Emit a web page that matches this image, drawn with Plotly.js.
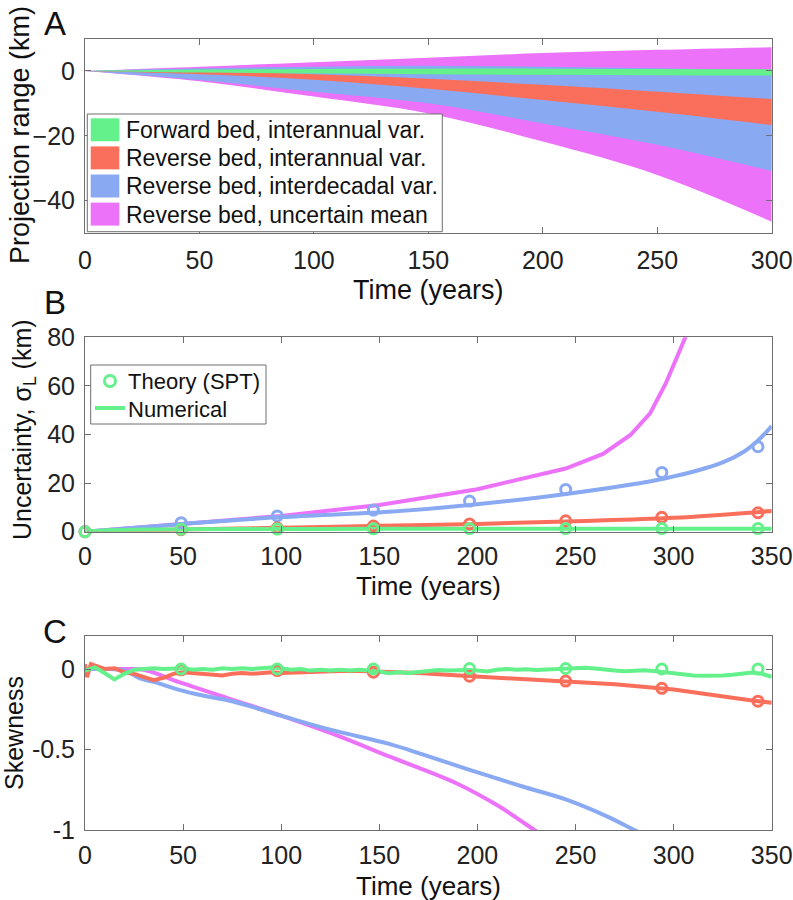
<!DOCTYPE html>
<html>
<head>
<meta charset="utf-8">
<script src="https://cdn.plot.ly/plotly-3.0.1.min.js"></script>
<style>
  body { margin: 0; background: #fff; }
  #chart { width: 793px; height: 900px; }
</style>
</head>
<body>
<div id="chart"></div>
<script>
// ---- Panel A: projection range bands (km) ----
const yearsA = [0, 50, 100, 150, 200, 250, 300];
const meanUpper = [0, 1.3, 2.7, 4.1, 5.5, 6.5, 7.3];
const meanLower = [0, -3.2, -7.9, -13.1, -21.8, -32.1, -46.5];
const decadalUpper = [0, 0.8, 1.3, 1.6, 1.3, 0.8, 0.3];
const decadalLower = [0, -2.8, -6.4, -10.0, -16.2, -22.8, -30.9];
const reverseUpper = [0, -0.2, -1.0, -2.4, -4.3, -6.4, -8.7];
const reverseLower = [0, -1.0, -2.7, -5.5, -9.0, -12.6, -16.7];
const forwardUpper = [0, 0.4, 0.6, 0.7, 0.7, 0.6, 0.5];
const forwardLower = [0, -0.5, -0.8, -1.0, -1.2, -1.3, -1.4];
const bandNames = ['Forward bed, interannual var.', 'Reverse bed, interannual var.',
                   'Reverse bed, interdecadal var.', 'Reverse bed, uncertain mean'];

// ---- Panel B: uncertainty sigma_L (km) ----
const theoryYears = [0, 49, 98, 147, 196, 245, 294, 343];
const theoryDecadal = [0, 3.7, 6.5, 8.9, 12.6, 17.4, 24.4, 35.0];
const theoryReverse = [0, 0.8, 1.5, 2.3, 3.2, 4.5, 5.9, 7.8];
const theoryForward = [0, 1.0, 1.1, 1.2, 1.3, 1.3, 1.3, 1.3];
const numMeanYears = [0, 50, 100, 150, 200, 245, 264, 278, 288, 296, 302, 306, 312];
const numMean = [0, 3.3, 6.5, 11.0, 17.5, 26.0, 32.0, 39.8, 48.7, 61.0, 72.0, 80.0, 98.0];
const numDecadalYears = [0, 50, 100, 155, 196, 245, 296, 325, 336, 343, 350];
const numDecadal = [0, 3.2, 6.0, 8.2, 11.0, 15.5, 22.0, 28.5, 33.0, 37.5, 43.5];
const numYears = [0, 50, 100, 150, 200, 250, 300, 350];
const numReverse = [0, 0.9, 1.6, 2.4, 3.2, 4.3, 5.7, 8.5];
const numForwardYears = [0, 10, 25, 50, 100, 150, 200, 250, 300, 350];
const numForward = [0, 0.5, 0.8, 1.0, 1.1, 1.2, 1.2, 1.2, 1.2, 1.2];
const legendNamesB = ['Theory (SPT)', 'Numerical'];

// ---- Panel C: skewness ----
const skewTheoryYears = [49, 98, 147, 196, 245, 294, 343];
const skewTheoryReverse = [-0.005, -0.01, -0.02, -0.045, -0.075, -0.12, -0.2];
const skewTheoryForward = [0, 0, 0, 0.003, 0.003, 0, 0];
const skewForwardYears = [0, 5, 10, 15, 20, 25, 30, 35, 40, 45, 50, 55, 60, 65, 70, 75, 80, 85, 90, 95,
  100, 105, 110, 115, 120, 125, 130, 135, 140, 145, 150, 155, 160, 165, 170, 175, 180, 185, 190, 195,
  200, 205, 210, 215, 220, 225, 230, 235, 240, 245, 250, 255, 260, 265, 270, 275, 280, 285, 290, 295,
  300, 305, 310, 315, 320, 325, 330, 335, 340, 345, 350];
const skewForward = [-0.01, 0.01, -0.025, -0.065, -0.03, -0.005, 0.0, 0.005, 0.0, 0.005, 0.005, -0.005,
  0.0, -0.005, 0.005, 0.0, 0.005, 0.0, 0.005, 0.01, 0.005, -0.005, 0.0, -0.01, -0.005, -0.01, -0.005,
  -0.01, -0.005, -0.01, -0.015, -0.027, -0.02, -0.025, -0.02, -0.01, -0.006, -0.01, -0.005, -0.006,
  -0.01, -0.015, -0.005, 0.0, -0.005, -0.002, -0.006, -0.003, 0.0, 0.0, 0.005, 0.008, 0.003, -0.005,
  -0.01, -0.014, -0.01, -0.008, -0.012, -0.02, -0.028, -0.035, -0.04, -0.042, -0.043, -0.04, -0.036,
  -0.03, -0.022, -0.03, -0.048];
const skewReverseYears = [0, 1, 3, 5, 10, 15, 20, 25, 30, 35, 40, 45, 50, 55, 60, 65, 70, 75, 80, 85, 90,
  95, 100, 110, 120, 130, 140, 150, 160, 170, 180, 190, 200, 210, 220, 230, 240, 250, 260, 270, 280,
  290, 300, 310, 320, 330, 340, 350];
const skewReverse = [0.03, -0.05, 0.03, 0.02, 0.0, 0.005, -0.02, -0.03, -0.05, -0.07, -0.055, -0.03,
  -0.02, -0.025, -0.03, -0.035, -0.04, -0.03, -0.025, -0.03, -0.025, -0.02, -0.025, -0.02, -0.015,
  -0.012, -0.012, -0.015, -0.018, -0.025, -0.033, -0.04, -0.045, -0.052, -0.058, -0.064, -0.07,
  -0.076, -0.085, -0.095, -0.105, -0.115, -0.128, -0.145, -0.163, -0.18, -0.195, -0.21];
const skewDecadalYears = [0, 10, 20, 28, 35, 48, 60, 75, 100, 126, 155, 172, 196, 223, 245, 266, 280, 285];
const skewDecadal = [0, 0, -0.01, -0.058, -0.08, -0.13, -0.165, -0.2, -0.29, -0.38, -0.465, -0.53,
  -0.626, -0.73, -0.81, -0.915, -1.0, -1.03];
const skewMeanYears = [0, 20, 30, 48, 75, 100, 130, 155, 189, 211, 229, 235];
const skewMean = [0, 0, -0.005, -0.082, -0.19, -0.29, -0.42, -0.543, -0.708, -0.853, -1.0, -1.05];

// colours
const GREEN = '#64f08b', RED = '#fa6f5b', BLUE = '#89a9f2', MAGENTA = '#ec72fa';
const FONT = 'Liberation Sans, Arial, Helvetica, sans-serif';
const W = 793, H = 900;
const px = v => v / W;
const py = v => 1 - v / H;

const traces = [];

// panel A bands: lower edge first, then upper edge filled to it
function band(lower, upper, color) {
  traces.push({x: yearsA, y: lower, xaxis: 'x', yaxis: 'y', mode: 'lines',
    line: {width: 0, shape: 'spline', color: color}, showlegend: false, hoverinfo: 'skip'});
  traces.push({x: yearsA, y: upper, xaxis: 'x', yaxis: 'y', mode: 'lines', fill: 'tonexty',
    fillcolor: color, line: {width: 0, shape: 'spline', color: color}, showlegend: false});
}
band(meanLower, meanUpper, MAGENTA);
band(decadalLower, decadalUpper, BLUE);
band(reverseLower, reverseUpper, RED);
band(forwardLower, forwardUpper, GREEN);

function line(x, y, color, ax, shape) {
  traces.push({x: x, y: y, xaxis: 'x' + ax, yaxis: 'y' + ax, mode: 'lines',
    line: {color: color, width: 4, shape: shape || 'linear'}, showlegend: false});
}
function circles(x, y, color, ax) {
  traces.push({x: x, y: y, xaxis: 'x' + ax, yaxis: 'y' + ax, mode: 'markers',
    marker: {symbol: 'circle-open', size: 10, color: color, line: {width: 3, color: color}},
    showlegend: false, cliponaxis: false});
}

// panel B
line(numMeanYears, numMean, MAGENTA, 2);
line(numDecadalYears, numDecadal, BLUE, 2, 'spline');
line(numYears, numReverse, RED, 2, 'spline');
line(numForwardYears, numForward, GREEN, 2, 'spline');
circles(theoryYears, theoryDecadal, BLUE, 2);
circles(theoryYears, theoryReverse, RED, 2);
circles(theoryYears, theoryForward, GREEN, 2);

// panel C
line(skewMeanYears, skewMean, MAGENTA, 3, 'spline');
line(skewDecadalYears, skewDecadal, BLUE, 3, 'spline');
line(skewReverseYears, skewReverse, RED, 3);
line(skewForwardYears, skewForward, GREEN, 3);
circles(skewTheoryYears, skewTheoryReverse, RED, 3);
circles(skewTheoryYears, skewTheoryForward, GREEN, 3);

function axis(extra) {
  return Object.assign({
    showline: true, linecolor: '#6e6e6e', linewidth: 1, mirror: 'ticks',
    ticks: 'inside', ticklen: 6, tickcolor: '#6e6e6e', tickwidth: 1,
    tickfont: {size: 25, color: '#222', family: FONT},
    showgrid: false, zeroline: false, fixedrange: true
  }, extra);
}
const xDom = [px(85), px(771.7)];

const shapes = [];
const annotations = [];
function box(x0, x1, y0, y1) {
  shapes.push({type: 'rect', xref: 'paper', yref: 'paper', x0: px(x0), x1: px(x1),
    y0: py(y1), y1: py(y0), line: {color: '#6e6e6e', width: 1}, fillcolor: '#fff', layer: 'above'});
}
function legendText(text, x, y, size) {
  annotations.push({text: text, xref: 'paper', yref: 'paper', x: px(x), y: py(y),
    xanchor: 'left', yanchor: 'middle', showarrow: false, font: {size: size, color: '#111'}});
}

// legend for panel A
box(87.3, 442.3, 114, 231.7);
const legendColors = [GREEN, RED, BLUE, MAGENTA];
bandNames.forEach((name, i) => {
  const top = 118.3 + i * 28.1;
  shapes.push({type: 'rect', xref: 'paper', yref: 'paper', x0: px(90.7), x1: px(119.3),
    y0: py(top + 23), y1: py(top), line: {width: 0}, fillcolor: legendColors[i], layer: 'above'});
  legendText(name, 124, top + 12, 23);
});

// legend for panel B
box(90.7, 266, 365, 424);
shapes.push({type: 'circle', xref: 'paper', yref: 'paper', x0: px(104.5), x1: px(115.5),
  y0: py(386.5), y1: py(375.5), line: {color: GREEN, width: 3}, layer: 'above'});
shapes.push({type: 'line', xref: 'paper', yref: 'paper', x0: px(95), x1: px(125),
  y0: py(408), y1: py(408), line: {color: GREEN, width: 4}, layer: 'above'});
legendText(legendNamesB[0], 126, 381, 22);
legendText(legendNamesB[1], 126, 409, 22);

function label(text, x, y, size, angle) {
  annotations.push({text: text, xref: 'paper', yref: 'paper', x: px(x), y: py(y),
    xanchor: 'center', yanchor: 'middle', showarrow: false, textangle: angle || 0,
    font: {size: size, color: '#111'}});
}
label('A', 55, 23, 33);
label('B', 55, 302, 33);
label('C', 55, 631, 33);
label('Projection range (km)', 20, 135, 27, -90);
label('Time (years)', 428, 290, 27);
label('Uncertainty, σ<sub>L</sub> (km)', 24, 430, 25, -90);
label('Time (years)', 428, 586, 26);
label('Skewness', 14, 733, 25, -90);
label('Time (years)', 428, 886, 26);

const layout = {
  width: W, height: H,
  margin: {l: 0, r: 0, t: 0, b: 0},
  paper_bgcolor: '#fff', plot_bgcolor: '#fff',
  font: {family: FONT, color: '#111'},
  showlegend: false,
  xaxis: axis({domain: xDom, anchor: 'y', range: [0, 300], tickvals: [0, 50, 100, 150, 200, 250, 300], ticklabelstandoff: 5}),
  yaxis: axis({domain: [py(233), py(38.5)], anchor: 'x', range: [-50, 10], tickvals: [-40, -20, 0], ticklabelstandoff: 4}),
  xaxis2: axis({domain: xDom, anchor: 'y2', range: [0, 350], tickvals: [0, 50, 100, 150, 200, 250, 300, 350], ticklabelstandoff: 2}),
  yaxis2: axis({domain: [py(531.7), py(337.3)], anchor: 'x2', range: [0, 80], tickvals: [0, 20, 40, 60, 80], ticklabelstandoff: 4}),
  xaxis3: axis({domain: xDom, anchor: 'y3', range: [0, 350], tickvals: [0, 50, 100, 150, 200, 250, 300, 350], ticklabelstandoff: 3}),
  yaxis3: axis({domain: [py(830), py(636)], anchor: 'x3', range: [-1, 0.205], tickvals: [-1, -0.5, 0], ticktext: ['-1', '-0.5', '0'], ticklabelstandoff: 4}),
  shapes: shapes,
  annotations: annotations
};

Plotly.newPlot('chart', traces, layout, {staticPlot: true, displayModeBar: false});
</script>
</body>
</html>
